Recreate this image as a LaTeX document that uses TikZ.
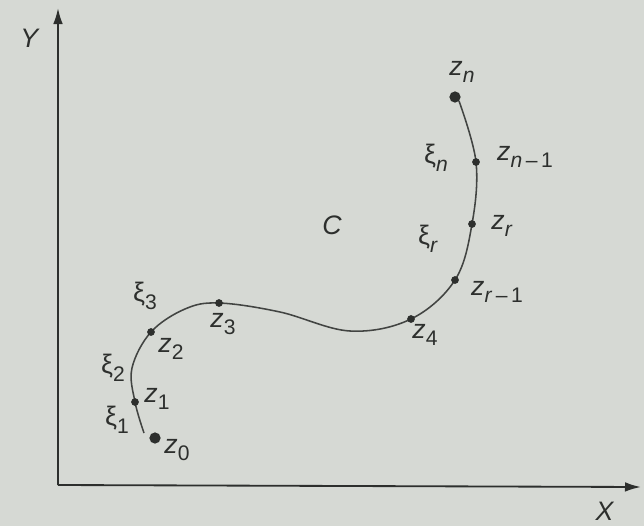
\documentclass[tikz,border=0pt]{standalone}
\usepackage{fontspec}
\setmainfont{Liberation Sans}
\usetikzlibrary{arrows.meta, positioning}
\definecolor{paper}{RGB}{214,217,212}
\definecolor{ink}{RGB}{45,47,45}
% label with a lowered index
\newcommand{\lab}[2]{#1\raisebox{-0.55ex}{\fontsize{15}{15}\selectfont #2}}

\begin{document}
\begin{tikzpicture}[
  x=0.025cm, y=-0.025cm,
  ax/.style={-{Latex[length=4mm,width=2.4mm]}, line width=1.3pt, ink},
  crv/.style={line width=1.1pt, ink!90},
  dot/.style={circle, fill=ink, inner sep=0pt, minimum size=5.5pt},
  bigdot/.style={dot, minimum size=8pt},
  lbl/.style={font=\fontsize{19}{22}\selectfont, text=ink, inner sep=1pt}
]
\fill[paper] (0,0) rectangle (644,526);
\useasboundingbox (0,0) rectangle (644,526);
% axes
\coordinate (o) at (58,485);
\coordinate (ytip) at (58,8);
\coordinate (xtip) at (641,487);
\draw[ax] (o) -- (ytip);
\draw[ax] (o) -- (xtip);
\node[lbl] (ylab) at (30,38) {\textit{Y}};
\node[lbl] (xlab) at (605,511) {\textit{X}};
% the curve C
\draw[crv] plot[smooth, tension=0.6] coordinates {(144,433) (135,402) (132,368)
  (151,332) (185,309) (219,303) (280,312) (350,331) (411,319) (455,280)
  (472,224) (476,162) (459,101)};
\node[lbl] (c) at (332,225) {\textit{C}};
% points of the subdivision
\node[bigdot] (p0) at (155,438) {};
\node[dot] (p1) at (135,402) {};
\node[dot] (p2) at (151,332) {};
\node[dot] (p3) at (219,303) {};
\node[dot] (p4) at (411,319) {};
\node[dot] (pr1) at (455,280) {};
\node[dot] (pr) at (472,224) {};
\node[dot] (pn1) at (476,162) {};
\node[bigdot] (pn) at (455,97) {};
% point labels
\node[lbl] (z0) at (177,450) {\lab{\textit{z}}{0}};
\node[lbl] (z1) at (157,399) {\lab{\textit{z}}{1}};
\node[lbl] (z2) at (171,349) {\lab{\textit{z}}{2}};
\node[lbl] (z3) at (223,324) {\lab{\textit{z}}{3}};
\node[lbl] (z4) at (425,335) {\lab{\textit{z}}{4}};
\node[lbl] (zr1) at (497,292) {\lab{\textit{z}}{\textit{r}\,–\,1}};
\node[lbl] (zr) at (502,226) {\lab{\textit{z}}{\textit{r}}};
\node[lbl] (zn1) at (525,157) {\lab{\textit{z}}{\textit{n}\,–\,1}};
\node[lbl] (zn) at (462,72) {\lab{\textit{z}}{\textit{n}}};
% intermediate points
\node[lbl] (x1) at (117,420) {\lab{ξ}{1}};
\node[lbl] (x2) at (113,368) {\lab{ξ}{2}};
\node[lbl] (x3) at (145,296) {\lab{ξ}{3}};
\node[lbl] (xr) at (428,239) {\lab{ξ}{\textit{r}}};
\node[lbl] (xn) at (436,158) {\lab{ξ}{\textit{n}}};
\end{tikzpicture}
\end{document}
